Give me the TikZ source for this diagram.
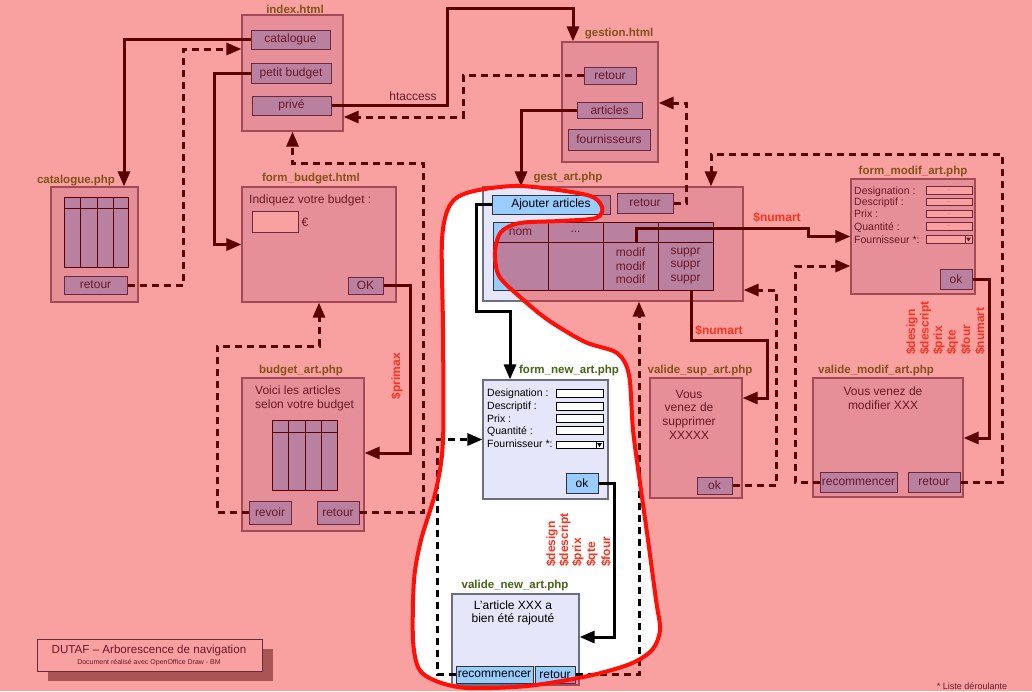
\documentclass[tikz,border=0pt]{standalone}
\usepackage{fontspec}
\setmainfont{Liberation Sans}
\usetikzlibrary{arrows.meta}

\definecolor{pinkbg}{RGB}{249,160,160}
\definecolor{pagefill}{RGB}{230,143,152}
\definecolor{pageline}{RGB}{160,75,85}
\definecolor{btnfill}{RGB}{185,128,159}
\definecolor{btnline}{RGB}{110,40,60}
\definecolor{wirec}{RGB}{90,0,0}
\definecolor{txtc}{RGB}{105,25,40}
\definecolor{ttlc}{RGB}{130,82,25}
\definecolor{varc}{RGB}{255,50,30}
\definecolor{markc}{RGB}{255,15,5}
\definecolor{lavfill}{RGB}{230,230,250}
\definecolor{lavline}{RGB}{110,110,130}
\definecolor{bluebtn}{RGB}{153,204,255}
\definecolor{ttlgreen}{RGB}{70,100,20}
\definecolor{shadowc}{RGB}{170,85,85}

\begin{document}
\begin{tikzpicture}[x=1pt,y=-1pt,
  page/.style={draw=pageline,fill=pagefill,line width=1.2pt,inner sep=0pt},
  btn/.style={draw=btnline,fill=btnfill,line width=1pt,inner sep=0pt,text=txtc,font=\fontsize{12}{13}\selectfont},
  ttl/.style={text=ttlc,font=\bfseries\fontsize{11.5}{12}\selectfont},
  txt/.style={text=txtc,font=\fontsize{12}{13.7}\selectfont,align=center,inner sep=0pt},
  flbl/.style={text=txtc,font=\fontsize{10.5}{12}\selectfont,anchor=west,inner sep=0pt},
  field/.style={draw=btnline,fill=pinkbg,line width=.8pt},
  ink/.style={fill=txtc},
  tinydots/.style={text=txtc,font=\fontsize{4}{4}\selectfont,inner sep=0pt},
  cell/.style={draw=wirec,fill=btnfill,line width=1pt,inner sep=0pt,text=txtc,align=center,font=\fontsize{12}{13.5}\selectfont},
  tline/.style={draw=wirec,line width=1pt},
  wire/.style={draw=wirec,line width=3pt},
  tip/.style={-{Triangle[length=15pt,width=12pt]}},
  dashwire/.style={wire,dash pattern=on 7pt off 5pt},
  var/.style={text=varc,font=\bfseries\fontsize{12}{12}\selectfont,rotate=90,anchor=west,inner sep=0pt},
  varh/.style={text=varc,font=\bfseries\fontsize{12}{12}\selectfont,inner sep=0pt},
  marker/.style={draw=markc,line width=4pt,line join=round}]

\fill[pinkbg] (0,0) rectangle (1032,691);
\useasboundingbox (0,0) rectangle (1032,691);

\def\loopcoords{(450,205) (470,192) (520,186) (587,195) (602,207) (596,218) (560,221) (520,223) (501,232) (495,252) (499,276) (520,297) (548,320) (585,342) (617,353) (629,375) (633,430) (640,483) (648,540) (656,600) (660,630) (652,650) (630,664) (588,676) (527,686) (467,688) (436,681) (419,669) (413,640) (414,580) (421,540) (436,490) (443,440) (443,330) (442,240)}

\def\scene{
  % pages
  \node[page,minimum width=101,minimum height=116] (index) at (292.5,73) {};
  \node[page,minimum width=87,minimum height=115] (catpage) at (94.5,244.5) {};
  \node[page,minimum width=154,minimum height=115] (budgetform) at (319,244.5) {};
  \node[page,minimum width=122,minimum height=153] (budgetart) at (303,454.5) {};
  \node[page,minimum width=96,minimum height=120] (gestion) at (610,102) {};
  \node[page,minimum width=260,minimum height=114] (gestart) at (613,244) {};
  \node[page,minimum width=124,minimum height=115] (formmodif) at (913,236.5) {};
  \node[page,minimum width=92,minimum height=120] (validesup) at (696,438) {};
  \node[page,minimum width=150,minimum height=119] (validemodif) at (888,437.5) {};
  \node[page,minimum width=125,minimum height=119] (formnew) at (545.5,439.5) {};
  \node[page,minimum width=127,minimum height=91] (validenew) at (515.5,639.5) {};

  % titles
  \node[ttl] (tindex) at (295,9) {index.html};
  \node[ttl] (tcat) at (76,181) {catalogue.php};
  \node[ttl] (tbform) at (311,179) {form\_budget.html};
  \node[ttl] (tbart) at (301,371) {budget\_art.php};
  \node[ttl] (tgestion) at (619,34) {gestion.html};
  \node[ttl] (tgestart) at (568,178) {gest\_art.php};
  \node[ttl] (tfmodif) at (913,172) {form\_modif\_art.php};
  \node[ttl] (tvsup) at (700,371) {valide\_sup\_art.php};
  \node[ttl] (tvmodif) at (876,371) {valide\_modif\_art.php};
  \node[ttl] (tfnew) at (569,371) {form\_new\_art.php};
  \node[ttl] (tvnew) at (515,586) {valide\_new\_art.php};

  % buttons
  \node[btn,minimum width=79,minimum height=19] (bcat) at (290.5,39.5) {catalogue};
  \node[btn,minimum width=80,minimum height=20] (bpetit) at (291,73) {petit budget};
  \node[btn,minimum width=79,minimum height=19] (bprive) at (291.5,105.5) {privé};
  \node[btn,minimum width=63,minimum height=18] (bcatret) at (95.5,285) {retour};
  \node[btn,minimum width=35,minimum height=17] (bok) at (365.5,285.5) {OK};
  \node[btn,minimum width=42,minimum height=23] (brevoir) at (270,512.5) {revoir};
  \node[btn,minimum width=42,minimum height=23] (bbudret) at (338,512.5) {retour};
  \node[btn,minimum width=52,minimum height=17] (bgesret) at (610,75.5) {retour};
  \node[btn,minimum width=65,minimum height=16] (barticles) at (609.5,110) {articles};
  \node[btn,minimum width=82,minimum height=21] (bfourn) at (609,139.5) {fournisseurs};
  \node[btn,minimum width=118,minimum height=19] (bajout) at (551,204.5) {Ajouter articles};
  \node[btn,minimum width=56,minimum height=20] (bartret) at (645,203) {retour};
  \node[btn,minimum width=32,minimum height=20] (bmodok) at (956,279) {ok};
  \node[btn,minimum width=35,minimum height=17] (bsupok) at (714.5,485.5) {ok};
  \node[btn,minimum width=77,minimum height=20] (bmodrec) at (858.5,482) {recommencer};
  \node[btn,minimum width=52,minimum height=20] (bmodret) at (934,482) {retour};
  \node[btn,minimum width=32,minimum height=20] (bnewok) at (582,483) {ok};
  \node[btn,minimum width=77,minimum height=17] (bnewrec) at (494.5,674.5) {recommencer};
  \node[btn,minimum width=40,minimum height=17] (bnewret) at (555,674.5) {retour};

  % tables
  \draw[cell] (64,197) rectangle (128,267);
  \draw[tline] (64,208) -- (128,208);
  \foreach \cx in {80,97,113} \draw[tline] (\cx,197) -- (\cx,267);
  \draw[cell] (272,420) rectangle (337,490);
  \draw[tline] (272,432) -- (337,432);
  \foreach \cx in {288,305,321} \draw[tline] (\cx,420) -- (\cx,490);

  \node[cell,minimum width=55,minimum height=20] (hnom) at (520.5,232) {nom};
  \node[cell,minimum width=55,minimum height=20] (hdots) at (575.5,232) {...};
  \node[cell,minimum width=55,minimum height=20] (hmodif) at (630.5,232) {};
  \node[cell,minimum width=55,minimum height=20] (hsuppr) at (685.5,232) {};
  \node[cell,minimum width=55,minimum height=48] (bnom) at (520.5,266) {};
  \node[cell,minimum width=55,minimum height=48] (bdots) at (575.5,266) {};
  \node[cell,minimum width=55,minimum height=48] (bmodif) at (630.5,266) {modif\\modif\\modif};
  \node[cell,minimum width=55,minimum height=48] (bsuppr) at (685.5,266) {suppr\\suppr\\suppr};

  % page texts
  \node[txt,anchor=west] (lindiq) at (249,200) {Indiquez votre budget :};
  \draw[field] (252,211) rectangle (298,232);
  \node[txt] (leuro) at (305,222) {€};
  \node[txt,anchor=west,align=left] (lvoici) at (255,398.5) {Voici les articles\\selon votre budget};
  \node[txt] (lvsup) at (689,414.5) {Vous\\venez de\\supprimer\\XXXXX};
  \node[txt] (lvmodif) at (883,398) {Vous venez de\\modifier XXX};
  \node[txt] (lvnew) at (513,613) {L'article XXX a\\bien été rajouté};

  % forms
  \foreach \lab/\yy [count=\i] in {Designation :/191.5,Descriptif :/202.5,Prix :/214,Quantité :/228,Fournisseur *:/240}
    \node[flbl] (fm\i) at (854,\yy) {\lab};
  \foreach \yy [count=\i] in {190.5,202,214,226.5} {
    \draw[field] (926,\yy-3.7) rectangle (972,\yy+3.7);
    \node[tinydots] (fmd\i) at (949,\yy) {...};
  }
  \draw[field] (926,235.8) rectangle (972,243.2);
  \draw[field] (965,235.8) rectangle (972,243.2);
  \path[ink] (966,237.5) -- (971,237.5) -- (968.5,241.5) -- cycle;

  \foreach \lab/\yy [count=\i] in {Designation :/394,Descriptif :/407,Prix :/418.5,Quantité :/431.5,Fournisseur *:/444}
    \node[flbl] (fn\i) at (487,\yy) {\lab};
  \foreach \yy in {393.5,406.5,418.5,430.5}
    \draw[field] (556,\yy-3.7) rectangle (603,\yy+3.7);
  \draw[field] (556,441.3) rectangle (603,448.7);
  \draw[field] (596,441.3) rectangle (603,448.7);
  \path[ink] (597,443) -- (602,443) -- (599.5,447) -- cycle;

  % connectors
  \draw[wire,tip] (bcat.west) -| (catpage.north -| 124,0);
  \draw[dashwire,tip] (bcatret.east) -| (183,49) -- (index.west |- 0,49);
  \draw[wire,tip] (bpetit.west) -| (214,244.5) -- (budgetform.west);
  \draw[wire,tip] (bprive.east) -| (447,8) -| (gestion.north -| 573,0);
  \draw[dashwire,tip] (bgesret.west) -| (463,117) -- (index.east |- 0,117);
  \draw[wire,tip] (barticles.west) -| (gestart.north -| 521,0);
  \draw[dashwire,tip] (bartret.east) -| (686,103) -- (gestion.east |- 0,103);
  \draw[dashwire,tip] (brevoir.west) -| (217,346) -| (budgetform.south);
  \draw[dashwire,tip] (bbudret.east) -| (423,163) -| (index.south);
  \draw[wire,tip] (bok.east) -| (410,453) -- (budgetart.east |- 0,453);
  \draw[wire,tip] (bajout.west) -| (476,311) -| (formnew.north -| 510,0);
  \draw[wire,tip] (bnewok.east) -| (614,637) -- (validenew.east |- 0,637);
  \draw[dashwire,tip] (bnewrec.west) -| (437,439.5) -- (formnew.west);
  \draw[dashwire,tip] (bnewret.east) -| (gestart.south -| 639,0);
  \draw[wire,tip] ([xshift=6]hmodif.south) |- (808,228) |- (formmodif.west);
  \draw[wire,tip] ([xshift=6]bsuppr.south) |- (767,340) |- (validesup.east |- 0,398);
  \draw[dashwire,tip] (bsupok.east) -| (776,290) -- (gestart.east |- 0,290);
  \draw[dashwire,tip] (bmodret.east) -| (1002,154) -| (gestart.north -| 711,0);
  \draw[dashwire,tip] (bmodrec.west) -| (795,266) -- (formmodif.west |- 0,266);
  \draw[wire,tip] (bmodok.east) -| (989,438) -- (validemodif.east |- 0,438);
  \node[txt] (htaccess) at (413,96) {htaccess};
}

\scene

% the circled part keeps its own colours
\begin{scope}
  \clip plot [smooth cycle] coordinates {\loopcoords};
  \fill[white] (0,0) rectangle (1032,691);
  \tikzset{
    page/.style={draw=lavline,fill=lavfill,line width=1.2pt,inner sep=0pt},
    btn/.style={draw=black!80,fill=bluebtn,line width=1pt,inner sep=0pt,text=black,font=\fontsize{12}{13}\selectfont},
    ttl/.style={text=ttlgreen,font=\bfseries\fontsize{11.5}{12}\selectfont},
    txt/.style={text=black,font=\fontsize{12}{13.7}\selectfont,align=center,inner sep=0pt},
    flbl/.style={text=black,font=\fontsize{10.5}{12}\selectfont,anchor=west,inner sep=0pt},
    field/.style={draw=black,fill=white,line width=.8pt},
    ink/.style={fill=black},
    cell/.style={draw=black!80,fill=bluebtn,line width=1pt,inner sep=0pt,text=black,align=center,font=\fontsize{12}{13.5}\selectfont},
    tline/.style={draw=black!80,line width=1pt},
    wire/.style={draw=black,line width=3pt}}
  \scene
\end{scope}

% variables passed
\node[varh] (vnum1) at (777,217) {\$numart};
\node[varh] (vnum2) at (719,330) {\$numart};
\node[varh,rotate=90] (vprimax) at (397,376) {\$primax};
\foreach \lab/\xx [count=\i] in {design/912,descript/925.5,prix/939,qte/952.5,four/966,numart/980}
  \node[var] (vm\i) at (\xx,355) {\$\lab};
\foreach \lab/\xx [count=\i] in {design/552,descript/565,prix/578,qte/592,four/606}
  \node[var] (vn\i) at (\xx,567) {\$\lab};

\draw[marker] plot [smooth cycle] coordinates {\loopcoords};

% footer
\fill[shadowc] (48,649) rectangle (273,681);
\node[draw=btnline,fill=pinkbg,line width=1pt,minimum width=225,minimum height=32] (footer) at (149.5,655) {};
\node[text=txtc,font=\fontsize{11.6}{12}\selectfont] (fttl) at (149,650.5) {DUTAF – Arborescence de navigation};
\node[text=txtc,font=\fontsize{7}{8}\selectfont] (fsub) at (149,662.5) {Document réalisé avec OpenOffice Draw - BM};
\node[text=txtc,font=\fontsize{9}{10}\selectfont] (listnote) at (972,686) {* Liste déroulante};

\end{tikzpicture}
\end{document}
